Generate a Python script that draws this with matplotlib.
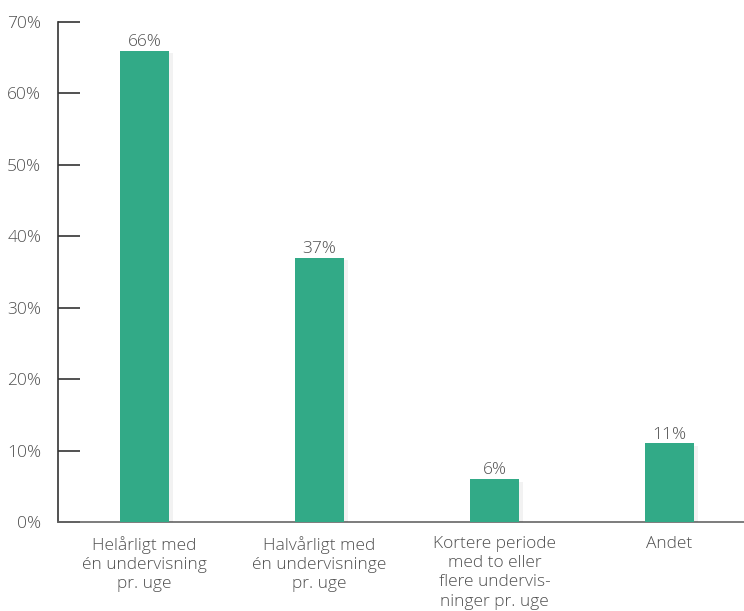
import matplotlib
matplotlib.use("Agg")
import matplotlib.pyplot as plt
import matplotlib.patheffects as pe
from matplotlib.ticker import FuncFormatter

categories = ["Helårligt med\nén undervisning\npr. uge",
              "Halvårligt med\nén undervisninge\npr. uge",
              "Kortere periode\nmed to eller\nflere undervis-\nninger pr. uge",
              "Andet"]
values = [66, 37, 6, 11]
yticks = [0, 10, 20, 30, 40, 50, 60, 70]

plt.rcParams['font.family'] = ['Open Sans', 'DejaVu Sans']
text_color = "#505050"
bar_color = "#32aa87"

fig = plt.figure(figsize=(7.44, 6.11), dpi=100)
ax = fig.add_axes([58/744, (611-522)/611, 1 - 58/744, 500/611])

x = list(range(len(categories)))
bars = ax.bar(x, values, width=0.28, color=bar_color, zorder=3)
for b in bars:
    b.set_path_effects([pe.SimplePatchShadow(offset=(3, -2), shadow_rgbFace="#000000", alpha=0.05),
                        pe.Normal()])

for xi, v in zip(x, values):
    ax.text(xi, v + 0.1, f"{v}%", ha="center", va="bottom", fontsize=12.5,
            color=text_color, fontweight="light")

ax.set_xlim(-0.494, 3.426)
ax.set_ylim(0, 70)
ax.set_yticks(yticks)
ax.yaxis.set_major_formatter(FuncFormatter(lambda v, p: f"{int(v)}%"))
ax.set_xticks(x)
ax.set_xticklabels(categories, fontsize=12.5, color=text_color, fontweight="light",
                   linespacing=1.27)

for s in ["top", "right"]:
    ax.spines[s].set_visible(False)
ax.spines["left"].set_color("#333333")
ax.spines["bottom"].set_color("#666666")
ax.spines["left"].set_linewidth(1.2)
ax.spines["bottom"].set_linewidth(1.2)

ax.tick_params(axis="y", direction="in", length=16, width=1.2, color="#333333",
               labelsize=12.5, labelcolor=text_color, pad=12)
ax.tick_params(axis="x", length=0, pad=10)
for lab in ax.get_yticklabels():
    lab.set_fontweight("light")

fig.savefig("out.png", dpi=100)
